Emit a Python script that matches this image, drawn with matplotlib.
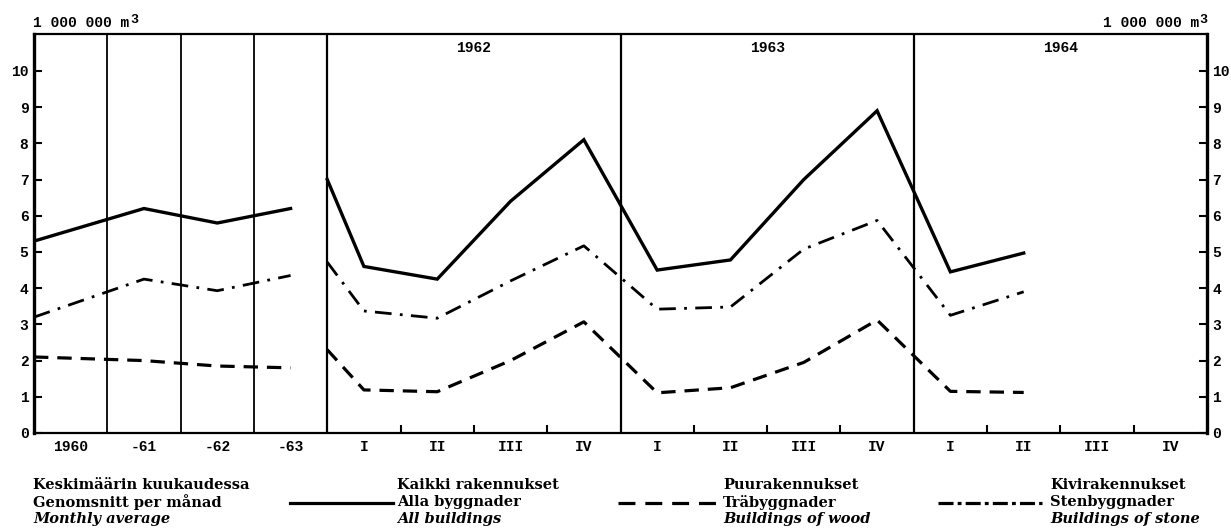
import matplotlib
matplotlib.use("Agg")
import matplotlib.pyplot as plt
from matplotlib.lines import Line2D

# ---------------- data ----------------
annual_labels = ["1960", "-61", "-62", "-63"]
quarter_labels = ["I", "II", "III", "IV"]
years_q = ["1962", "1963", "1964"]

# monthly averages by year (1960..1963); 1960 lies on the line entering at the left edge
all_annual = [5.6, 6.2, 5.8, 6.2]
wood_annual = [2.07, 2.0, 1.85, 1.8]
stone_annual = [3.55, 4.25, 3.93, 4.35]
all_annual_entry = 5.3
wood_annual_entry = 2.1
stone_annual_entry = 3.2

# quarterly values 1962 I .. 1964 II, plus value where line enters the 1962 panel
all_q = [4.6, 4.25, 6.4, 8.1, 4.5, 4.78, 7.0, 8.9, 4.45, 4.97]
wood_q = [1.19, 1.14, 2.0, 3.07, 1.11, 1.25, 1.95, 3.12, 1.15, 1.12]
stone_q = [3.37, 3.17, 4.2, 5.17, 3.42, 3.48, 5.08, 5.87, 3.25, 3.9]
all_q_entry = 7.0
wood_q_entry = 2.3
stone_q_entry = 4.72

# ---------------- figure ----------------
W, H = 1231, 530
fig = plt.figure(figsize=(W / 100, H / 100), dpi=100)
ax = fig.add_axes([34 / W, 1 - 433 / H, (1207 - 34) / W, (433 - 34) / H])

mono = "Liberation Mono"
serif = "DejaVu Serif"
tfs = 10.5

n_ann = len(annual_labels)
n_q = len(years_q) * len(quarter_labels)
ax.set_xlim(0, n_ann + n_q)
ax.set_ylim(0, 11.02)

solid_kw = dict(color="black", lw=2.4, solid_joinstyle="miter")
dash_kw = dict(color="black", lw=2.3, linestyle=(0, (4.5, 2.8)))
dashdot_kw = dict(color="black", lw=2.0, linestyle=(0, (6, 3, 1, 3)))

# annual section: line enters at left edge, then through -61, -62, -63 points
ann_x = [0] + [i + 0.5 for i in range(1, n_ann)]
ax.plot(ann_x, [all_annual_entry] + all_annual[1:], **solid_kw)
ax.plot(ann_x, [wood_annual_entry] + wood_annual[1:], **dash_kw)
ax.plot(ann_x, [stone_annual_entry] + stone_annual[1:], **dashdot_kw)

q_x = [n_ann] + [n_ann + i + 0.5 for i in range(len(all_q))]
ax.plot(q_x, [all_q_entry] + all_q, **solid_kw)
ax.plot(q_x, [wood_q_entry] + wood_q, **dash_kw)
ax.plot(q_x, [stone_q_entry] + stone_q, **dashdot_kw)

# vertical separators
for xv in range(1, n_ann):
    ax.axvline(xv, color="black", lw=1.3)
for k in range(len(years_q)):
    ax.axvline(n_ann + 4 * k, color="black", lw=1.6)
    ax.text(n_ann + 4 * k + 2, 10.63, years_q[k], ha="center", va="center",
            fontsize=tfs, family=mono, fontweight="bold")

# spines
for s in ["left", "right"]:
    ax.spines[s].set_linewidth(2.4)
for s in ["top", "bottom"]:
    ax.spines[s].set_linewidth(1.6)

# ticks
centers = [i + 0.5 for i in range(n_ann + n_q)]
labels = annual_labels + quarter_labels * len(years_q)
ax.set_xticks(centers)
ax.set_xticklabels(labels, family=mono, fontsize=tfs, fontweight="bold")
ax.tick_params(axis="x", which="major", length=0, pad=5)
minor = [n_ann + 4 * k + j for k in range(len(years_q)) for j in (1, 2, 3)]
ax.set_xticks(minor, minor=True)
ax.tick_params(axis="x", which="minor", direction="in", length=6, width=1.5)

ax.set_yticks(range(0, 11))
ax.tick_params(axis="y", direction="in", length=6, width=1.5, left=True, right=True,
               labelleft=True, labelright=True, pad=4)
for t in ax.get_yticklabels():
    t.set_family(mono); t.set_fontsize(tfs); t.set_fontweight("bold")

# unit labels
tl = fig.text(33 / W, 1 - 23 / H, "1 000 000 m", family=mono, fontsize=10.5,
              fontweight="bold", va="center", ha="left")
ax.annotate("3", xy=(1, 1), xycoords=tl, xytext=(0.5, -7), textcoords="offset points",
            family=mono, fontsize=9.5, fontweight="bold", ha="left", va="bottom")
tr = fig.text(1199 / W, 1 - 23 / H, "1 000 000 m", family=mono, fontsize=10.5,
              fontweight="bold", va="center", ha="right")
ax.annotate("3", xy=(1, 1), xycoords=tr, xytext=(0.5, -7), textcoords="offset points",
            family=mono, fontsize=9.5, fontweight="bold", ha="left", va="bottom")

# ---------------- legend ----------------
ys = [1 - 485 / H, 1 - 502 / H, 1 - 519 / H]
lfs = 10.5


def block(x, lines):
    for i, txt in enumerate(lines):
        fig.text(x / W, ys[i], txt, family=serif, fontsize=lfs, fontweight="bold",
                 style="italic" if i == 2 else "normal", va="center", ha="left")


block(33, ["Keskimäärin kuukaudessa", "Genomsnitt per månad", "Monthly average"])
block(397, ["Kaikki rakennukset", "Alla byggnader", "All buildings"])
block(723, ["Puurakennukset", "Träbyggnader", "Buildings of wood"])
block(1050, ["Kivirakennukset", "Stenbyggnader", "Buildings of stone"])

ly = 1 - 503 / H
fig.add_artist(Line2D([290 / W, 393 / W], [ly, ly], transform=fig.transFigure,
                      color="black", lw=2.3))
fig.add_artist(Line2D([618 / W, 717 / W], [ly, ly], transform=fig.transFigure,
                      color="black", lw=2.3, linestyle=(0, (5.3, 3.1))))
fig.add_artist(Line2D([938 / W, 1042 / W], [ly, ly], transform=fig.transFigure,
                      color="black", lw=2.3, linestyle=(0, (4.7, 1.3, 1.2, 1.3))))

fig.savefig("out.png", dpi=100)
